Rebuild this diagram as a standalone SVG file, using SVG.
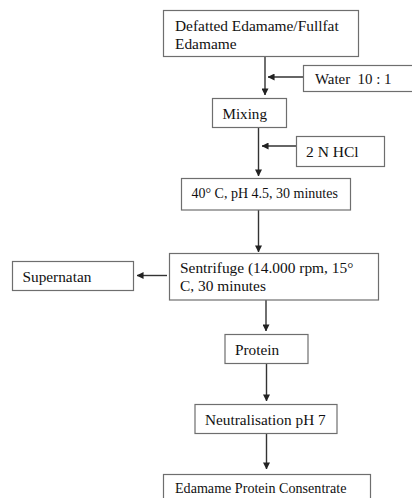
<svg xmlns="http://www.w3.org/2000/svg" width="412" height="498" viewBox="0 0 412 498">
<style>
.box{fill:#fff;stroke:#6e6e6e;stroke-width:1.2}
.t{font-family:"Liberation Serif","Times New Roman",serif;font-size:15.3px;fill:#111;white-space:pre}
.s{font-size:14px}
.c{stroke:#333;stroke-width:1.4;fill:none}
</style>
<defs>
<marker id="ah" viewBox="0 0 8 8" refX="7.5" refY="4" markerWidth="5" markerHeight="5" orient="auto" markerUnits="strokeWidth">
<path d="M0,0 L8,4 L0,8 z" fill="#222"/>
</marker>
</defs>
<rect width="412" height="498" fill="#fff"/>
<g id="connectors">
<line class="c" x1="265" y1="57" x2="265" y2="95" marker-end="url(#ah)"/>
<line class="c" x1="303" y1="77" x2="268" y2="77" marker-end="url(#ah)"/>
<line class="c" x1="258.5" y1="127" x2="258.5" y2="176" marker-end="url(#ah)"/>
<line class="c" x1="297" y1="146" x2="262" y2="146" marker-end="url(#ah)"/>
<line class="c" x1="258.5" y1="210" x2="258.5" y2="252" marker-end="url(#ah)"/>
<line class="c" x1="167" y1="275.5" x2="137" y2="275.5" marker-end="url(#ah)"/>
<line class="c" x1="266" y1="300" x2="266" y2="331" marker-end="url(#ah)"/>
<line class="c" x1="266.5" y1="363" x2="266.5" y2="401" marker-end="url(#ah)"/>
<line class="c" x1="266.5" y1="433" x2="266.5" y2="469" marker-end="url(#ah)"/>
</g>
<g id="n1">
<rect class="box" x="163.5" y="10.5" width="195" height="46"/>
<text class="t" x="175" y="31" style="font-size:15.4px">Defatted Edamame/Fullfat</text>
<text class="t" x="175" y="48.5" style="font-size:15.4px">Edamame</text>
</g>
<g id="water">
<rect class="box" x="303.5" y="65.5" width="112" height="26"/>
<text class="t" x="315" y="84" style="font-size:14.9px">Water  10 : 1</text>
</g>
<g id="mixing">
<rect class="box" x="212.5" y="98.5" width="74" height="29"/>
<text class="t" x="222.5" y="119" style="font-size:15.1px">Mixing</text>
</g>
<g id="hcl">
<rect class="box" x="296.5" y="136.5" width="88" height="30"/>
<text class="t" x="306" y="157" style="font-size:15.5px">2 N HCl</text>
</g>
<g id="cond">
<rect class="box" x="181.5" y="178.5" width="169" height="31.5"/>
<text class="t s" x="191.5" y="198">40° C, pH 4.5, 30 minutes</text>
</g>
<g id="sentrifuge">
<rect class="box" x="169.5" y="253.5" width="209" height="46.5"/>
<text class="t" x="180" y="273" style="font-size:15.4px">Sentrifuge (14.000 rpm, 15°</text>
<text class="t" x="180" y="290.5" style="font-size:15.4px">C, 30 minutes</text>
</g>
<g id="supernatan">
<rect class="box" x="12.5" y="261.5" width="121" height="29"/>
<text class="t" x="22.5" y="282">Supernatan</text>
</g>
<g id="protein">
<rect class="box" x="225" y="334.5" width="83" height="29"/>
<text class="t" x="235" y="354.5">Protein</text>
</g>
<g id="neutral">
<rect class="box" x="195" y="404.5" width="142" height="29"/>
<text class="t" x="205" y="424.5">Neutralisation pH 7</text>
</g>
<g id="epc">
<rect class="box" x="163.5" y="474.5" width="207" height="30"/>
<text class="t s" x="175" y="493" style="font-size:14.1px">Edamame Protein Consentrate</text>
</g>
</svg>
